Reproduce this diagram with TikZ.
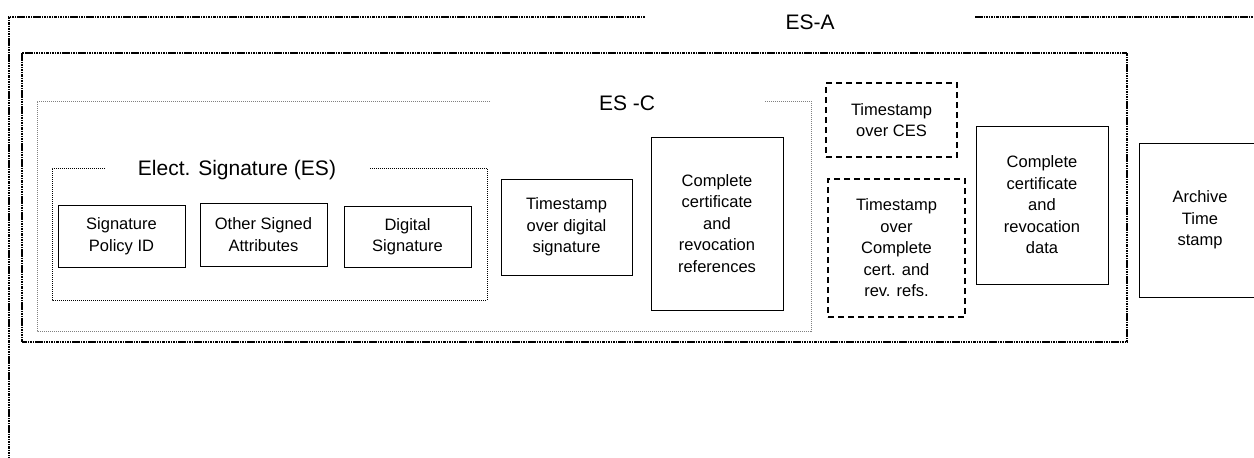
\documentclass[tikz,border=0pt]{standalone}
\usepackage{fontspec}
\setmainfont{Liberation Sans}
\usetikzlibrary{positioning}

\begin{document}
\begin{tikzpicture}[
        x=1pt, y=-1pt,
        box/.style={draw, line width=0.8pt, align=center, inner sep=0pt,
            font=\fontsize{16.5}{21.5}\selectfont},
        tsbox/.style={box, line width=1.5pt, dash pattern=on 6pt off 4pt},
        title/.style={font=\fontsize{21}{25}\selectfont},
        frameA/.style={line width=1.6pt, dash pattern=on 2.5pt off 0.8pt on 1.2pt off 0.8pt},
        frameC/.style={gray, line width=0.7pt, dash pattern=on 1pt off 1pt},
        frameES/.style={line width=0.8pt, dash pattern=on 1pt off 1pt}
    ]
    \clip (0,0) rectangle (1254,458);
    % group titles
    \node[title] (esA) at (810,22) {ES-A};
    \node[title] (esC) at (627,103) {ES -C};
    \node[title] (es) at (237,170) {Elect. Signature (ES)};
    % frames
    \draw[frameA] (645,17) -- (9,17) -- (9,470);
    \draw[frameA] (975,17) -- (1270,17);
    \draw[frameA] (22,53) rectangle (1127,342);
    \draw[frameC] (490,101) -- (37,101) -- (37,331) -- (811,331) -- (811,101) -- (765,101);
    \draw[frameES] (105,168) -- (52,168) -- (52,300) -- (487,300) -- (487,168) -- (370,168);
    % ES
    \node[box, minimum width=127pt, minimum height=62pt] (policy) at (121.5,236) {Signature\\Policy ID};
    \node[box, minimum width=127pt, minimum height=63pt] (attrs) at (263.5,234.5) {Other Signed\\Attributes};
    \node[box, minimum width=127pt, minimum height=61pt] (digsig) at (407.5,236.5) {Digital\\Signature};
    % ES-C
    \node[box, minimum width=131pt, minimum height=96pt] (tsdig) at (566.5,227) {Timestamp\\over digital\\signature};
    \node[box, minimum width=132pt, minimum height=173pt] (refs) at (717,223.5) {Complete\\certificate\\and\\revocation\\references};
    % ES-X
    \node[tsbox, minimum width=131pt, minimum height=74pt] (tsces) at (891.5,120) {Timestamp\\over CES};
    \node[tsbox, minimum width=137pt, minimum height=138pt] (tsrefs) at (896.5,248) {Timestamp\\over\\Complete\\cert. and\\rev. refs.};
    \node[box, minimum width=132pt, minimum height=158pt] (vals) at (1042,205) {Complete\\certificate\\and\\revocation\\data};
    % ES-A
    \node[box, minimum width=122pt, minimum height=154pt] (archive) at (1200,220) {Archive\\Time\\stamp};
\end{tikzpicture}
\end{document}
